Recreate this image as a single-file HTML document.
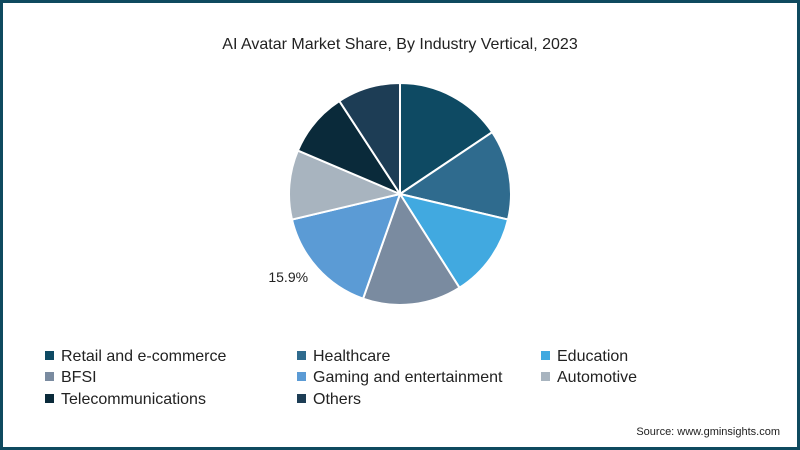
<!DOCTYPE html>
<html><head><meta charset="utf-8"><style>
html,body{margin:0;padding:0}
body{width:800px;height:450px;position:relative;overflow:hidden;font-family:"Liberation Sans",sans-serif;background:#fff}
#frame{position:absolute;left:0;top:0;width:794px;height:444px;border:3px solid #0f4a5f;background:#fff}
.t{position:absolute;white-space:nowrap;color:#222}
.lg{position:absolute;font-size:16px;color:#222;white-space:nowrap;line-height:18px}
.lg span{display:inline-block;width:9px;height:9px;margin-right:7px;vertical-align:1px}
</style></head><body>
<div id="frame"></div>
<div class="t" style="left:0;width:800px;text-align:center;top:36px;font-size:16px">AI Avatar Market Share, By Industry Vertical, 2023</div>
<svg id="pie" width="800" height="450" style="position:absolute;left:0;top:0"></svg>
<div id="legend"></div>
<div class="t" style="right:20px;top:426px;font-size:11px">Source: www.gminsights.com</div>
<script>
const categories=["Retail and e-commerce","Healthcare","Education","BFSI","Gaming and entertainment","Automotive","Telecommunications","Others"];
const values=[15.6,13.1,12.3,14.4,15.9,10.1,9.4,9.2];
const colors=["#0e4a63","#2f6b8e","#41a9e0","#7a8ba0","#5b9bd5","#a8b4bf","#0a2a3a","#1d3d55"];
const labeled=[4];
const svg=document.getElementById('pie');
const NS='http://www.w3.org/2000/svg';
const cx=400,cy=194,r=111;
const total=values.reduce((a,b)=>a+b,0);
function pt(a,rr){return [cx+rr*Math.sin(a),cy-rr*Math.cos(a)];}
let a0=0;
values.forEach((v,i)=>{
  const a1=a0+v/total*2*Math.PI;
  const p0=pt(a0,r),p1=pt(a1,r);
  const large=(a1-a0)>Math.PI?1:0;
  const p=document.createElementNS(NS,'path');
  p.setAttribute('d',`M${cx},${cy}L${p0[0]},${p0[1]}A${r},${r} 0 ${large} 1 ${p1[0]},${p1[1]}Z`);
  p.setAttribute('fill',colors[i]);
  p.setAttribute('stroke','#fff');
  p.setAttribute('stroke-width','2');
  
  
  svg.appendChild(p);
  if(labeled.includes(i)){
    const m=(a0+a1)/2, lp=pt(m,r+22);
    const t=document.createElementNS(NS,'text');
    t.setAttribute('x',lp[0]+7);t.setAttribute('y',lp[1]-1);
    t.setAttribute('text-anchor','end');
    t.setAttribute('font-size','14');t.setAttribute('fill','#222');
    t.setAttribute('font-family','Liberation Sans, sans-serif');
    t.textContent=v.toFixed(1)+'%';
    
    
    svg.appendChild(t);
  }
  a0=a1;
});
const lg=document.getElementById('legend');
const colX=[45,297,541],rowY=[348,369,391];
categories.forEach((c,i)=>{
  const d=document.createElement('div');
  d.className='lg';
  d.style.left=colX[i%3]+'px';d.style.top=rowY[Math.floor(i/3)]+'px';
  d.innerHTML='<span style="background:'+colors[i]+'"></span>'+c;
  
  
  lg.appendChild(d);
});
</script>
</body></html>
